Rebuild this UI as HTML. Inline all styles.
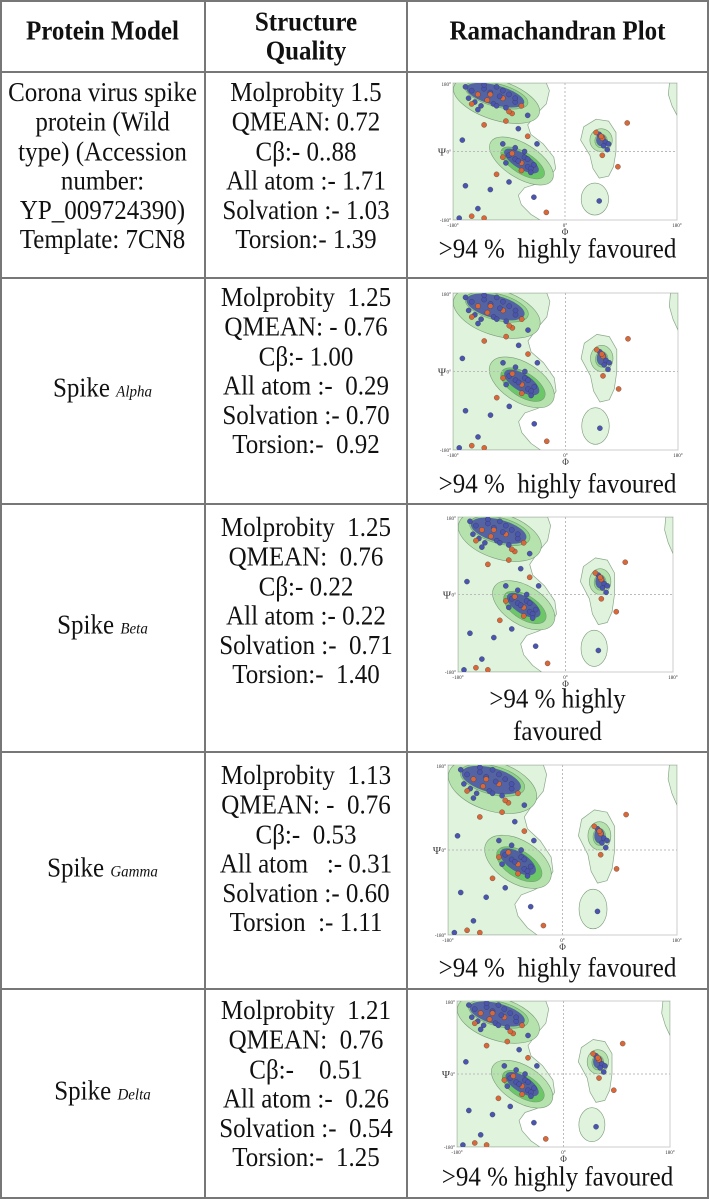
<!DOCTYPE html>
<html><head><meta charset="utf-8">
<style>
body{margin:0;background:#fff;width:710px;height:1199px;position:relative;overflow:hidden;font-family:"Liberation Serif",serif;color:#111}
.c{position:absolute;display:flex;align-items:center;justify-content:center;text-align:center;font-size:25px;line-height:27.3px}
.c>div{transform:scaleY(1.08)}
.h{font-weight:bold;font-size:25px;line-height:26.5px}
.hl{position:absolute;height:2px;background:#777;left:0;width:709px}
.vl{position:absolute;width:2px;background:#777;top:0;height:1199px}
.sub{font-style:italic;font-size:15px}
.cap{position:absolute;left:407px;width:301px;text-align:center;font-size:25px;line-height:29.5px;transform:scaleY(1.08)}
svg{position:absolute;overflow:visible}
</style></head><body>
<div class="hl" style="top:0"></div>
<div class="hl" style="top:71px"></div>
<div class="hl" style="top:277px"></div>
<div class="hl" style="top:503px"></div>
<div class="hl" style="top:751px"></div>
<div class="hl" style="top:988px"></div>
<div class="hl" style="top:1197px"></div>
<div class="vl" style="left:0"></div>
<div class="vl" style="left:204px"></div>
<div class="vl" style="left:406px"></div>
<div class="vl" style="left:707px"></div>

<div class="c h" style="left:0;top:0;width:205px;height:64px"><div>Protein Model</div></div>
<div class="c h" style="left:205px;top:0;width:202px;height:74px"><div>Structure<br>Quality</div></div>
<div class="c h" style="left:407px;top:0;width:301px;height:64px"><div>Ramachandran Plot</div></div>

<div class="c" style="left:0;top:72px;width:205px;height:190px"><div>Corona virus spike<br>protein (Wild<br>type) (Accession<br>number:<br>YP_009724390)<br>Template: 7CN8</div></div>
<div class="c" style="left:205px;top:72px;width:202px;height:190px"><div>Molprobity 1.5<br>QMEAN: 0.72<br>Cβ:- 0..88<br>All atom :- 1.71<br>Solvation :- 1.03<br>Torsion:- 1.39</div></div>
<div class="c" style="left:0;top:278px;width:205px;height:226px"><div>Spike <span class="sub">Alpha</span></div></div>
<div class="c" style="left:205px;top:278px;width:202px;height:188px"><div>Molprobity&nbsp; 1.25<br>QMEAN: - 0.76<br>Cβ:- 1.00<br>All atom :-&nbsp; 0.29<br>Solvation :- 0.70<br>Torsion:-&nbsp; 0.92</div></div>
<div class="c" style="left:0;top:504px;width:205px;height:248px"><div>Spike <span class="sub">Beta</span></div></div>
<div class="c" style="left:205px;top:504px;width:202px;height:196px"><div>Molprobity&nbsp; 1.25<br>QMEAN:&nbsp; 0.76<br>Cβ:- 0.22<br>All atom :- 0.22<br>Solvation :-&nbsp; 0.71<br>Torsion:-&nbsp; 1.40</div></div>
<div class="c" style="left:0;top:752px;width:205px;height:237px"><div>Spike <span class="sub">Gamma</span></div></div>
<div class="c" style="left:205px;top:752px;width:202px;height:196px"><div>Molprobity&nbsp; 1.13<br>QMEAN: -&nbsp; 0.76<br>Cβ:-&nbsp; 0.53<br>All atom &nbsp; :- 0.31<br>Solvation :- 0.60<br>Torsion&nbsp; :- 1.11</div></div>
<div class="c" style="left:0;top:989px;width:205px;height:209px"><div>Spike <span class="sub">Delta</span></div></div>
<div class="c" style="left:205px;top:989px;width:202px;height:192px"><div>Molprobity&nbsp; 1.21<br>QMEAN:&nbsp; 0.76<br>Cβ:-&nbsp;&nbsp;&nbsp; 0.51<br>All atom :-&nbsp; 0.26<br>Solvation :-&nbsp; 0.54<br>Torsion:-&nbsp; 1.25</div></div>

<div class="cap" style="top:235px">&gt;94 %&nbsp; highly favoured</div>
<div class="cap" style="top:470px">&gt;94 %&nbsp; highly favoured</div>
<div class="cap" style="top:686px">&gt;94 % highly<br>favoured</div>
<div class="cap" style="top:954px">&gt;94 %&nbsp; highly favoured</div>
<div class="cap" style="top:1163px">&gt;94 % highly favoured</div>

<div id="plots"></div>
<script>
const phiVals=[-160,-150,-140,-130,-120,-110,-100,-90,-80,-70,-155,-145,-135,-125,-115,-105,-95,-85,-140,-120,-100,-80,-130,-110,-90,-150,-60,-95,-75,-165,
-90,-80,-70,-60,-50,-85,-75,-65,-55,-95,-70,-60,-80,-100,-65,-55,-110,-120,-140,-150,-45,-130,-160,
55,60,65,62,58,70,50,68,60,85,-50,-30,100,55,-170,-60,-130,-100,-90];
const psiVals=[170,160,150,165,155,170,140,150,130,120,140,130,120,135,125,145,115,100,110,150,160,140,175,120,105,125,95,80,60,30,
-10,-20,-30,-40,-35,-5,-25,-15,-45,-30,-50,-20,10,-15,0,-55,-60,-100,-150,-170,20,-175,-90,
45,35,25,15,40,20,50,5,-10,-40,-120,-160,75,-130,-175,40,70,20,-80];
const colorVals=['b','b','o','b','b','b','o','b','b','o','b','b','b','o','b','b','b','o','b','o','b','b','b','b','o','o','b','o','b','b',
'b','b','o','b','b','o','b','b','b','b','o','b','b','o','b','b','o','b','b','o','b','o','b',
'b','o','b','b','o','b','o','b','o','o','b','o','o','b','b','o','o','b','b'];
const boxes=[[453,83,224,137],[453,293,225,157],[458,517,215,155],[448,765,229,170],[457,1001,213,146]];
const NS='http://www.w3.org/2000/svg';
const host=document.getElementById('plots');
boxes.forEach((b,bi)=>{
  const [L,T,W,H]=b;
  const svg=document.createElementNS(NS,'svg');
  
  
  svg.style.left=(L-30)+'px';svg.style.top=(T-4)+'px';
  svg.setAttribute('width',W+40);svg.setAttribute('height',H+30);
  host.appendChild(svg);
  const ox=30,oy=4;
  const cid='clip'+bi;
  const defs=document.createElementNS(NS,'defs');
  const cp=document.createElementNS(NS,'clipPath');cp.setAttribute('id',cid);
  const cr=document.createElementNS(NS,'rect');cr.setAttribute('x',ox);cr.setAttribute('y',oy);cr.setAttribute('width',W);cr.setAttribute('height',H);
  cp.appendChild(cr);defs.appendChild(cp);svg.appendChild(defs);
  const r=document.createElementNS(NS,'rect');
  r.setAttribute('x',ox);r.setAttribute('y',oy);r.setAttribute('width',W);r.setAttribute('height',H);
  r.setAttribute('fill','#fff');r.setAttribute('stroke','#ccc');svg.appendChild(r);
  
  
  const g=document.createElementNS(NS,'g');g.setAttribute('clip-path','url(#'+cid+')');svg.appendChild(g);
  const xS=p=>ox+(p+180)/360*W;
  const yS=s=>oy+(180-s)/360*H;
  const poly=(pts,fill,stroke)=>{const e=document.createElementNS(NS,'path');
    e.setAttribute('d','M'+pts.map(p=>xS(p[0]).toFixed(1)+','+yS(p[1]).toFixed(1)).join('L')+'Z');
    e.setAttribute('fill',fill);e.setAttribute('stroke',stroke);e.setAttribute('stroke-width','0.7');e.setAttribute('stroke-linejoin','round');g.appendChild(e);
    
    };
  const ell=(cx,cy,rx,ry,rot,fill,op)=>{const e=document.createElementNS(NS,'ellipse');
    e.setAttribute('cx',xS(cx));e.setAttribute('cy',yS(cy));e.setAttribute('rx',rx/360*W);e.setAttribute('ry',ry/360*H);
    e.setAttribute('transform','rotate('+rot+' '+xS(cx)+' '+yS(cy)+')');
    e.setAttribute('fill',fill);if(op)e.setAttribute('opacity',op);else{e.setAttribute('stroke','#7a9a7a');e.setAttribute('stroke-width','0.6');}g.appendChild(e);
    
    };
  poly([[-180,180],[-30,180],[-25,160],[-30,125],[-45,100],[-60,70],[-55,45],[-35,20],[-18,-15],[-15,-45],[-25,-70],[-45,-85],[-65,-95],[-75,-115],[-70,-140],[-55,-165],[-40,-180],[-180,-180]],'#e0f3dc','#8aa88a');
  poly([[30,65],[50,85],[70,80],[82,50],[82,0],[78,-40],[70,-65],[55,-70],[45,-45],[40,-10],[25,30]],'#e0f3dc','#8aa88a');
  ell(48,-125,22,42,0,'#e0f3dc');
  poly([[168,180],[180,180],[180,95],[172,120],[166,150]],'#e0f3dc','#8aa88a');
  ell(-110,135,72,52,18,'#b6e2ae');
  ell(-70,-25,58,45,32,'#b6e2ae');
  ell(-110,148,52,30,15,'#8ed486');
  ell(-68,-30,40,28,32,'#6cc866');
  ell(58,30,18,30,0,'#b6e2ae');
  ell(58,28,10,18,0,'#8ed486');
  [['v'],['h']].forEach(q=>{const l=document.createElementNS(NS,'line');
    if(q[0]=='v'){l.setAttribute('x1',xS(0));l.setAttribute('x2',xS(0));l.setAttribute('y1',oy);l.setAttribute('y2',oy+H);}
    else{l.setAttribute('x1',ox);l.setAttribute('x2',ox+W);l.setAttribute('y1',yS(0));l.setAttribute('y2',yS(0));}
    l.setAttribute('stroke','#bbb');l.setAttribute('stroke-dasharray','2,2');g.appendChild(l);
    
    });
  [[-112,148,48,26,15],[-70,-25,32,20,32],[58,30,8,16,0]].forEach(cl=>{
    ell(cl[0],cl[1],cl[2],cl[3],cl[4],'#4a4fa8','0.85');});
  phiVals.forEach((p,i)=>{const c=document.createElementNS(NS,'circle');
    c.setAttribute('cx',xS(p));c.setAttribute('cy',yS(psiVals[i]));c.setAttribute('r',2.6);
    c.setAttribute('fill',colorVals[i]=='b'?'#4a55b0':'#d8683a');c.setAttribute('stroke','#333');c.setAttribute('stroke-width','0.3');
    g.appendChild(c);
    
    });
  const txt=(x,y,s,sz,anc)=>{const t=document.createElementNS(NS,'text');t.setAttribute('x',x);t.setAttribute('y',y);
    t.setAttribute('font-size',sz);t.setAttribute('fill','#333');t.setAttribute('text-anchor',anc||'middle');
    t.setAttribute('font-family','Liberation Serif, serif');t.textContent=s;svg.appendChild(t);
    
    };
  txt(ox-2,oy+3,'180°',5,'end');txt(ox-2,oy+H+2,'-180°',5,'end');
  txt(ox-7,yS(0)+4,'Ψ',11,'end');txt(ox-2,yS(0)+2,'0°',5,'end');
  txt(ox,oy+H+7,'-180°',5);txt(xS(0),oy+H+7,'0°',5);txt(ox+W,oy+H+7,'180°',5);
  txt(xS(0),oy+H+15,'Φ',9);
});
</script>
</body></html>
